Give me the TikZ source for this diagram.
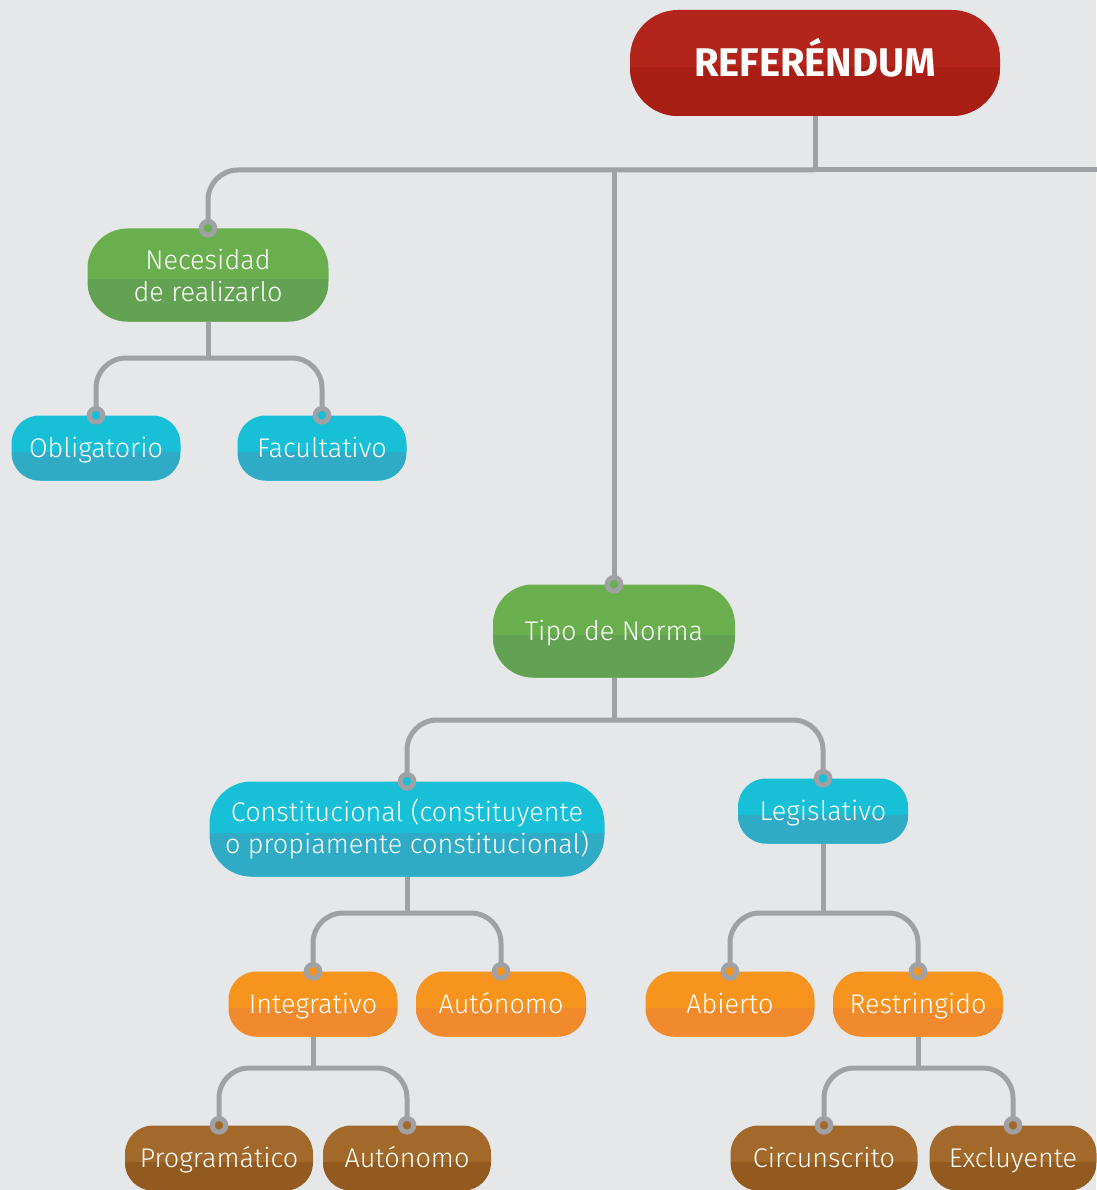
\documentclass[tikz,border=0pt]{standalone}
\usepackage{fontspec}
\setmainfont{Fira Sans}[UprightFont={* Light}, BoldFont={* Bold}]
\definecolor{bg}{HTML}{E6E7E8}
\definecolor{lgray}{HTML}{A0A1A4}
\definecolor{redT}{HTML}{B3241A}
\definecolor{redB}{HTML}{A81E15}
\definecolor{greenT}{HTML}{6AAF4E}
\definecolor{greenB}{HTML}{64A253}
\definecolor{cyanT}{HTML}{17BFD7}
\definecolor{cyanB}{HTML}{2FABC6}
\definecolor{orT}{HTML}{F7941E}
\definecolor{orB}{HTML}{F08A2C}
\definecolor{brT}{HTML}{A2692A}
\definecolor{brB}{HTML}{935A1F}
\tikzset{
  boxbase/.style={rectangle, text=white, inner sep=0pt, align=center,
    font=\fontsize{27}{32}\selectfont},
  split/.style={path picture={\fill[#1, sharp corners] ([yshift=-4pt]path picture bounding box.west) rectangle (path picture bounding box.south east);}},
  redbox/.style={boxbase, fill=redT, split=redB},
  greenbox/.style={boxbase, fill=greenT, split=greenB},
  cyanbox/.style={boxbase, fill=cyanT, split=cyanB},
  orbox/.style={boxbase, fill=orT, split=orB},
  brbox/.style={boxbase, fill=brT, split=brB},
  oneline/.style={text height=22pt, text depth=3.4pt},
  small/.style={oneline, minimum height=65pt, rounded corners=28pt},
  big/.style={minimum height=93pt, rounded corners=40pt},
  conn/.style={draw=lgray, line width=5pt},
  rconn/.style={conn, rounded corners=30pt},
  dot/.style={draw=lgray, line width=5pt, fill=#1}
}
\begin{document}
\begin{tikzpicture}[x=1pt,y=-1pt]
\useasboundingbox[fill=bg] (0,0) rectangle (1096,1190);
% nodes
\node[redbox, minimum width=370pt, minimum height=106pt, rounded corners=48pt,
  text height=28pt, text depth=0pt,
  font=\fontsize{40}{42}\selectfont\bfseries] (ref) at (815,63) {REFERÉNDUM};
\node[greenbox, big, minimum width=241pt] (nec) at (208,275) {Necesidad\\de realizarlo};
\node[greenbox, big, oneline, minimum width=242pt] (tipo) at (614,631) {Tipo de Norma};
\node[cyanbox, small, minimum width=169pt] (obl) at (96,448) {Obligatorio};
\node[cyanbox, small, minimum width=169pt] (fac) at (322,448) {Facultativo};
\node[cyanbox, minimum width=395pt, minimum height=95pt, rounded corners=42pt] (con) at (407,829) {Constitucional (constituyente\\o propiamente constitucional)};
\node[cyanbox, small, minimum width=170pt] (leg) at (823,811) {Legislativo};
\node[orbox, small, minimum width=169pt] (int) at (313,1004) {Integrativo};
\node[orbox, small, minimum width=170pt] (aut1) at (501,1004) {Autónomo};
\node[orbox, small, minimum width=169pt] (abi) at (730,1004) {Abierto};
\node[orbox, small, minimum width=170pt] (res) at (918,1004) {Restringido};
\node[brbox, small, minimum width=188pt] (pro) at (219,1158) {Programático};
\node[brbox, small, minimum width=168pt] (aut2) at (407,1158) {Autónomo};
\node[brbox, small, minimum width=187pt] (cir) at (824,1158) {Circunscrito};
\node[brbox, small, minimum width=167pt] (exc) at (1013,1158) {Excluyente};
% junctions
\coordinate (j0) at (815,170);
\coordinate (jr) at (1100,170);
\coordinate (j1) at (208,358);
\coordinate (j2) at (614,720);
\coordinate (j3) at (407,913);
\coordinate (j4) at (823,913);
\coordinate (j5) at (313,1068);
\coordinate (j6) at (918,1068);
% connectors
\draw[conn] (ref.south) -- (j0);
\draw[conn] (j0) -- (jr);
\draw[rconn] (j0) -| (nec.north);
\draw[conn] (tipo.north |- j0) -- (tipo.north);
\draw[conn] (nec.south) -- (j1);
\draw[rconn] (j1) -| (obl.north);
\draw[rconn] (j1) -| (fac.north);
\draw[conn] (tipo.south) -- (j2);
\draw[rconn] (j2) -| (con.north);
\draw[rconn] (j2) -| (leg.north);
\draw[conn] (con.south) -- (j3);
\draw[rconn] (j3) -| (int.north);
\draw[rconn] (j3) -| (aut1.north);
\draw[conn] (leg.south) -- (j4);
\draw[rconn] (j4) -| (abi.north);
\draw[rconn] (j4) -| (res.north);
\draw[conn] (int.south) -- (j5);
\draw[rconn] (j5) -| (pro.north);
\draw[rconn] (j5) -| (aut2.north);
\draw[conn] (res.south) -- (j6);
\draw[rconn] (j6) -| (cir.north);
\draw[rconn] (j6) -| (exc.north);
% dots
\foreach \n/\c in {nec/greenT, tipo/greenT, obl/cyanT, fac/cyanT, con/cyanT, leg/cyanT,
  int/orT, aut1/orT, abi/orT, res/orT, pro/brT, aut2/brT, cir/brT, exc/brT}
  \draw[dot=\c] (\n.north) circle (6.8pt);
\end{tikzpicture}
\end{document}
